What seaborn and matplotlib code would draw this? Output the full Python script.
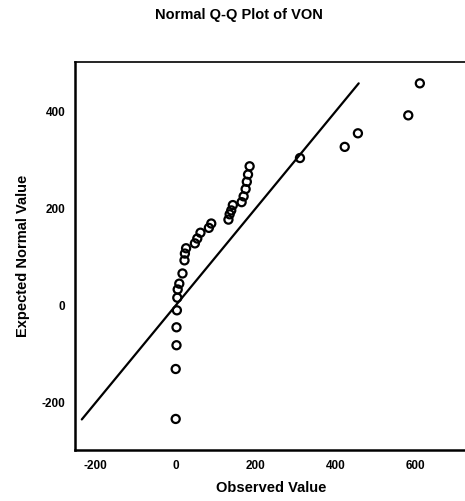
import matplotlib
matplotlib.use("Agg")
import matplotlib.pyplot as plt
import seaborn as sns

# observed (sorted) values of VON and their expected normal values
observed = [0, 0, 2, 2, 3, 4, 5, 9, 17, 22, 23, 26, 48, 54, 62, 83, 89,
            132, 135, 139, 143, 165, 170, 175, 178, 181, 185,
            311, 423, 456, 582, 611]
expected = [-234, -131, -82, -45, -10, 16, 33, 45, 66, 93, 107, 118, 128, 138, 150, 160, 169,
            177, 188, 196, 207, 213, 225, 240, 255, 270, 287,
            304, 327, 355, 392, 458]

# reference line y = x over the expected-value range
ref_line = [-235, 458]

xticks = [-200, 0, 200, 400, 600]
yticks = [-200, 0, 200, 400]

sns.set_style("white")
plt.rcParams["font.family"] = ["Liberation Sans", "DejaVu Sans"]
plt.rcParams["axes.unicode_minus"] = False
plt.rcParams["text.color"] = "black"
plt.rcParams["axes.labelcolor"] = "black"
plt.rcParams["xtick.color"] = "black"
plt.rcParams["ytick.color"] = "black"

fig = plt.figure(figsize=(4.65, 5.01), dpi=100)
ax = fig.add_axes([75 / 465, 1 - 450 / 501, 392 / 465, (450 - 62) / 501])

sns.lineplot(x=ref_line, y=ref_line, color="black", lw=1.6, ax=ax)
sns.scatterplot(x=observed, y=expected, marker="o", s=34, fc="none",
                ec="black", linewidth=1.6, ax=ax, zorder=3)

ax.set_xlim(-252, 729)
ax.set_ylim(-298, 502)
ax.set_xticks(xticks)
ax.set_yticks(yticks)
ax.tick_params(direction="out", length=5, width=1.5, color="black",
               labelcolor="black", labelsize=8.5, pad=2)
for lab in ax.get_xticklabels() + ax.get_yticklabels():
    lab.set_fontweight("bold")

for side in ["left", "bottom", "top"]:
    ax.spines[side].set_color("black")
ax.spines["left"].set_linewidth(1.8)
ax.spines["bottom"].set_linewidth(1.8)
ax.spines["top"].set_linewidth(1.2)
ax.spines["right"].set_visible(False)

ax.set_xlabel("Observed Value", fontsize=10.5, fontweight="bold", labelpad=7)
ax.set_ylabel("Expected Normal Value", fontsize=10.5, fontweight="bold", labelpad=8)
fig.text(0.514, 0.97, "Normal Q-Q Plot of VON", ha="center", va="center",
         fontsize=10.5, fontweight="bold")

fig.savefig("out.png", dpi=100)
